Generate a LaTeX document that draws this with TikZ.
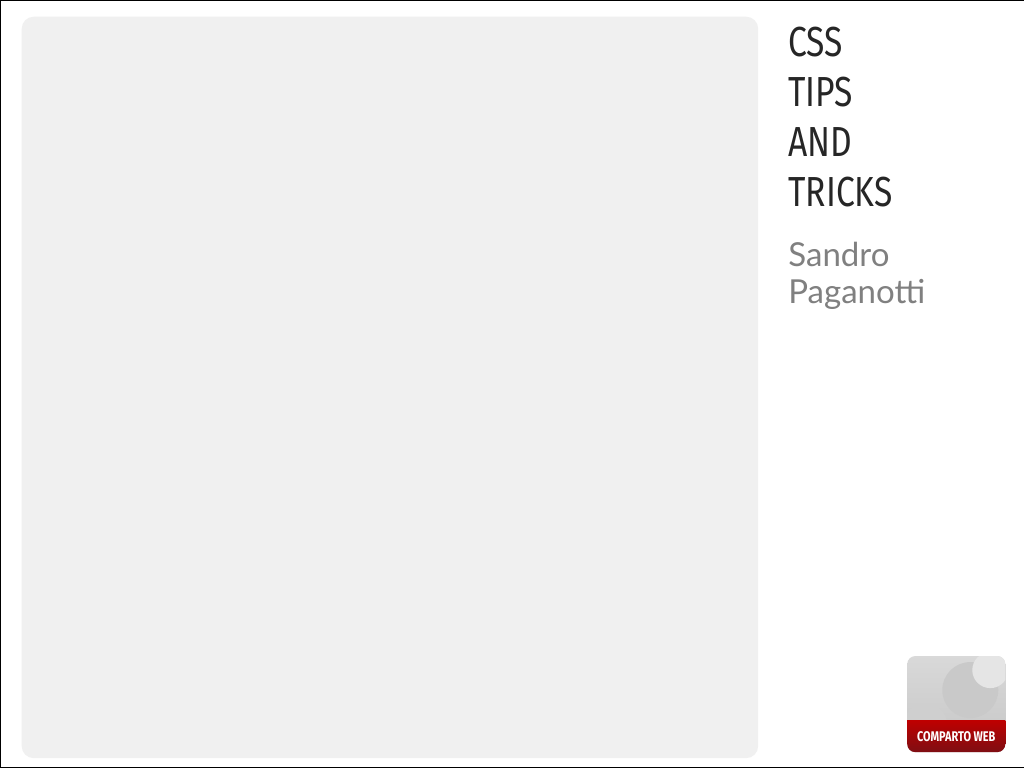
\documentclass[tikz,border=0pt]{standalone}
\usepackage{fontspec}
\setmainfont{Lato}
\newfontfamily\titlefont{Fira Sans}
\begin{document}
\begin{tikzpicture}[x=1pt,y=-1pt]
\definecolor{panel}{HTML}{F0F0F0}
\definecolor{subgray}{HTML}{808080}
\definecolor{logored}{HTML}{B5141B}
\tikzset{title/.style={anchor=base west,inner sep=0,text=black!85,font=\titlefont\fontsize{42}{42}\selectfont},
 sub/.style={anchor=base west,inner sep=0,text=subgray,font=\fontsize{33}{33}\selectfont}}
\path[use as bounding box,draw=black,fill=white] (0.5,0.5) rectangle (1023.5,767.5);
\fill[panel,rounded corners=12] (22,17) rectangle (758,758);
\node[title] (t1) at (788,57) {\scalebox{0.8}[1]{CSS}};
\node[title] (t2) at (788,107) {\scalebox{0.8}[1]{TIPS}};
\node[title] (t3) at (788,157) {\scalebox{0.8}[1]{AND}};
\node[title] (t4) at (788,207) {\scalebox{0.8}[1]{TRICKS}};
\node[sub] (s1) at (788,267) {Sandro};
\node[sub] (s2) at (788,304) {Paganotti};
\begin{scope}
\clip[rounded corners=8] (907,656) rectangle (1005,752);
\shade[top color=gray!30,bottom color=gray!45] (907,656) rectangle (1005,752);
\fill[gray!42] (970,690) circle (28);
\fill[gray!20] (990,670) circle (18);
\fill[gray!38] (925,725) circle (22);
\shade[top color=red!75!black,bottom color=logored!70!black] (907,720) rectangle (1005,752);
\end{scope}
\node[text=white,font=\titlefont\bfseries\fontsize{14}{14}\selectfont,inner sep=0] (logo) at (956,737) {\scalebox{0.78}[1]{COMPARTO WEB}};
\end{tikzpicture}
\end{document}
